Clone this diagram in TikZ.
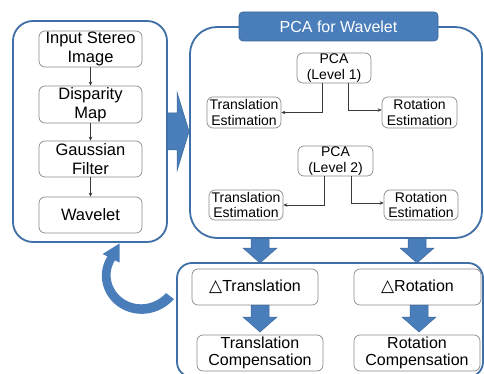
\documentclass[tikz,border=0pt]{standalone}
\usepackage{fontspec}
\setmainfont{Liberation Sans}
\newfontfamily\symfam{DejaVu Sans}
\usetikzlibrary{arrows.meta,calc,backgrounds}

\definecolor{frameblue}{HTML}{3F6FA6}
\definecolor{fillblue}{HTML}{4A7EBB}
\definecolor{edgeblue}{HTML}{3C679A}
\definecolor{boxgray}{HTML}{8A8A8A}
\definecolor{linkgray}{HTML}{3A3A3A}

% block arrow pointing down: #1 top point, #2 shaft length, #3 total length
\newcommand\dnarrow[3]{%
  \path[blockarrow] ($(#1)+(-9,0)$) -- ++(18,0) -- ++(0,#2) -- ++(8,0)
    -- ($(#1)+(0,#3)$) -- ($(#1)+(-17,#2)$) -- ++(8,0) -- cycle;}

\begin{document}
\begin{tikzpicture}[x=1pt,y=-1pt,
  stage/.style={draw=frameblue, line width=1.8pt, fill=white, inner sep=0pt},
  procbox/.style={draw=boxgray, line width=0.7pt, rounded corners=6pt,
    fill=white, inner sep=0pt, align=center},
  bigtext/.style={font=\fontsize{16.5}{19}\selectfont},
  smalltext/.style={font=\fontsize{14}{15.5}\selectfont},
  midtext/.style={font=\fontsize{16}{17.5}\selectfont},
  link/.style={draw=linkgray, line width=0.6pt, -{Stealth[length=4pt,width=3.5pt]}},
  blockarrow/.style={fill=fillblue, draw=edgeblue, line width=0.5pt}
]
\useasboundingbox (0,0) rectangle (484,374);

% stage frames
\node[stage, rounded corners=20pt, minimum width=154pt, minimum height=221pt] (prep) at (90,131.5) {};
\node[stage, rounded corners=27pt, minimum width=292pt, minimum height=211pt] (pcabox) at (336,132.5) {};
\node[stage, rounded corners=15pt, minimum width=306pt, minimum height=114pt] (comp) at (330,320) {};

\node[draw=edgeblue, fill=fillblue, line width=0.8pt, rounded corners=4pt,
  minimum width=199pt, minimum height=29pt, inner sep=0pt, text=white,
  font=\fontsize{16}{18}\selectfont] (title) at (338.5,26.5) {PCA for Wavelet};

% preprocessing chain
\node[procbox, bigtext, minimum width=103pt, minimum height=36pt] (inp) at (90.5,49) {Input Stereo\\Image};
\node[procbox, bigtext, minimum width=103pt, minimum height=37pt] (disp) at (90.5,104.5) {Disparity\\Map};
\node[procbox, bigtext, minimum width=103pt, minimum height=36pt] (gauss) at (90.5,159) {Gaussian\\Filter};
\node[procbox, bigtext, minimum width=103pt, minimum height=36pt] (wav) at (90.5,215) {Wavelet};

\draw[link] (inp.south) -- (disp.north);
\draw[link] (disp.south) -- (gauss.north);
\draw[link] (gauss.south) -- (wav.north);

% PCA levels
\node[procbox, smalltext, minimum width=74pt, minimum height=30pt] (p1) at (334,68) {PCA\\(Level 1)};
\node[procbox, smalltext, minimum width=74pt, minimum height=31pt] (t1) at (244,112.5) {Translation\\Estimation};
\node[procbox, smalltext, minimum width=75pt, minimum height=31pt] (r1) at (419.5,112.5) {Rotation\\Estimation};
\node[procbox, smalltext, minimum width=75pt, minimum height=30pt] (p2) at (335.5,161) {PCA\\(Level 2)};
\node[procbox, smalltext, minimum width=74pt, minimum height=30pt] (t2) at (246,205) {Translation\\Estimation};
\node[procbox, smalltext, minimum width=74pt, minimum height=30pt] (r2) at (421,205) {Rotation\\Estimation};

\draw[link] ([xshift=-12pt]p1.south) |- (t1.east);
\draw[link] ([xshift=14pt]p1.south) |- ([yshift=2.5pt]r1.west);
\draw[link] ([xshift=-11.5pt]p2.south) |- (t2.east);
\draw[link] ([xshift=15.5pt]p2.south) |- ([yshift=2pt]r2.west);

% compensation stage
\node[procbox, midtext, minimum width=126pt, minimum height=36pt] (dt) at (255,287)
  {{\symfam\fontsize{17}{17}\selectfont △}Translation};
\node[procbox, midtext, minimum width=127pt, minimum height=36pt] (dr) at (417.5,287)
  {{\symfam\fontsize{17}{17}\selectfont △}Rotation};
\node[procbox, midtext, minimum width=126pt, minimum height=36pt] (tc) at (260,353) {Translation\\Compensation};
\node[procbox, midtext, minimum width=126pt, minimum height=36pt] (rc) at (417,353) {Rotation\\Compensation};

\coordinate (ia) at (260,305);
\coordinate (ib) at (419,305);
\dnarrow{ia}{12}{27}
\dnarrow{ib}{12}{27}

% arrows between the stage frames
\begin{scope}[on background layer]
  \coordinate (tipR) at (pcabox.west |- prep.east);
  \path[blockarrow] (165,113) -- (177,113) -- (177,92) -- (tipR)
    -- (177,171) -- (177,150) -- (165,150) -- cycle;
  \coordinate (oa) at (260,237);
  \coordinate (ob) at (417,237);
  \dnarrow{oa}{11}{26}
  \dnarrow{ob}{11}{26}
\end{scope}

% feedback arrow back to the preprocessing chain
\fill[fillblue] plot[domain=37:207, samples=60]
    ({138+(45-10.75*(\x-37)/170)*cos(\x)}, {272+(45-10.75*(\x-37)/170)*sin(\x)})
  -- (102.6,254) -- (119.5,243.5) -- (119.6,262.6)
  -- plot[domain=207:37, samples=60]
    ({138+(35-9.25*(\x-37)/170)*cos(\x)}, {272+(35-9.25*(\x-37)/170)*sin(\x)})
  -- cycle;
\end{tikzpicture}
\end{document}
